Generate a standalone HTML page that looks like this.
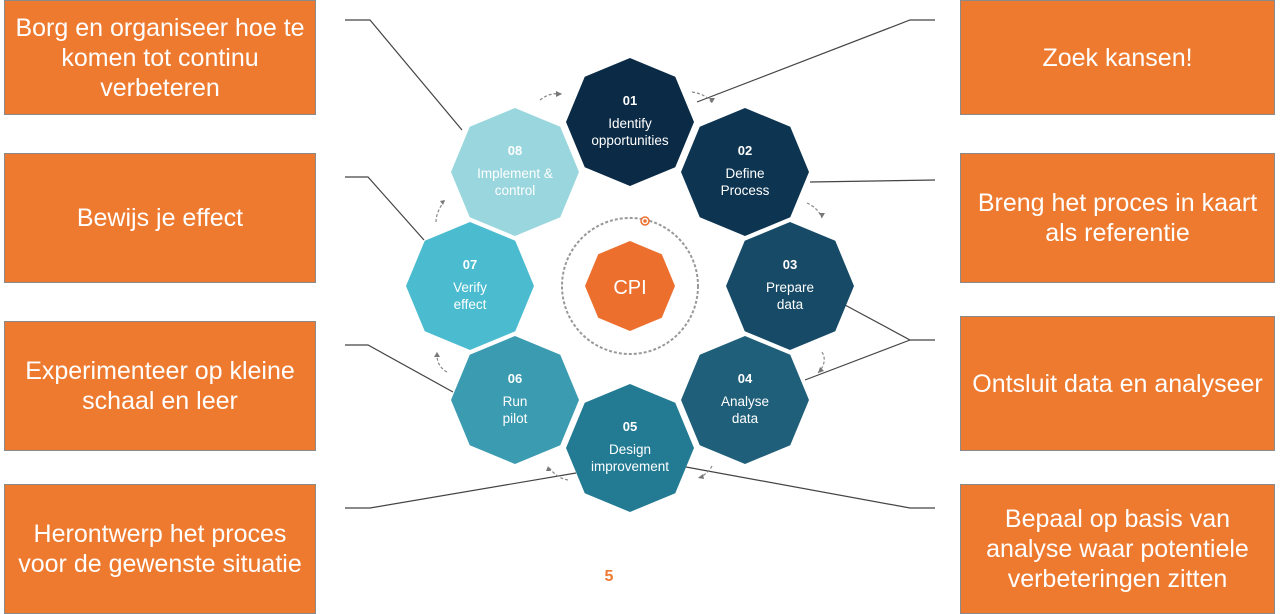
<!DOCTYPE html>
<html><head><style>
body{margin:0;width:1280px;height:614px;background:#fff;overflow:hidden;position:relative;font-family:"Liberation Sans",sans-serif}
.b{position:absolute;background:#ee7a30;border:1px solid #8a8a8a;box-sizing:border-box;color:#fff;font-size:25px;line-height:30px;display:flex;align-items:center;justify-content:center;text-align:center;white-space:nowrap}
svg{position:absolute;left:0;top:0}
</style></head><body>
<div class="b" style="left:4px;top:0;width:312px;height:115px">Borg en organiseer hoe te<br>komen tot continu<br>verbeteren</div>
<div class="b" style="left:4px;top:153px;width:312px;height:130px">Bewijs je effect</div>
<div class="b" style="left:4px;top:321px;width:312px;height:130px">Experimenteer op kleine<br>schaal en leer</div>
<div class="b" style="left:4px;top:484px;width:312px;height:130px">Herontwerp het proces<br>voor de gewenste situatie</div>
<div class="b" style="left:960px;top:0;width:315px;height:115px">Zoek kansen!</div>
<div class="b" style="left:960px;top:153px;width:315px;height:130px">Breng het proces in kaart<br>als referentie</div>
<div class="b" style="left:960px;top:316px;width:315px;height:135px">Ontsluit data en analyseer</div>
<div class="b" style="left:960px;top:484px;width:315px;height:130px">Bepaal op basis van<br>analyse waar potentiele<br>verbeteringen zitten</div>
<svg width="1280" height="614" font-family="Liberation Sans,sans-serif">
<defs>
<polygon id="o" points="0,-64 45.25,-45.25 64,0 45.25,45.25 0,64 -45.25,45.25 -64,0 -45.25,-45.25"/>
<polygon id="c" points="0,-45 31.8,-31.8 45,0 31.8,31.8 0,45 -31.8,31.8 -45,0 -31.8,-31.8"/>
</defs>
<g stroke="#444" stroke-width="1.2" fill="none">
<polyline points="345,20 370,20 462,130"/>
<polyline points="345,177 368,177 424,240"/>
<polyline points="345,345 368,345 453,392"/>
<polyline points="345,508 370,508 576,473"/>
<polyline points="935,20 910,20 697,102"/>
<polyline points="935,180 810,182"/>
<polyline points="935,340 910,340 845,305"/>
<polyline points="910,340 805,380"/>
<polyline points="935,508 910,508 686,467"/>
</g>
<circle cx="630" cy="286" r="68" fill="none" stroke="#999" stroke-width="2" stroke-dasharray="3,2"/>
<circle cx="645" cy="221" r="4" fill="#fff" stroke="#ec6f2d" stroke-width="1.5"/><circle cx="645" cy="221" r="1.8" fill="#ec6f2d"/>
<g fill="#fff" text-anchor="middle">
<use href="#o" x="630" y="122" fill="#0b2a45"/>
<use href="#o" x="745" y="172" fill="#0d3552"/>
<use href="#o" x="790" y="286" fill="#164a66"/>
<use href="#o" x="745" y="400" fill="#1f5f7a"/>
<use href="#o" x="515" y="400" fill="#3b9bb0"/>
<use href="#o" x="470" y="286" fill="#4bbccf"/>
<use href="#o" x="515" y="172" fill="#9ad6de"/>
<use href="#o" x="630" y="448" fill="#237b93"/>
<use href="#c" x="630" y="286" fill="#ec6f2d"/>
<g font-size="13" font-weight="bold">
<text x="630" y="105">01</text><text x="745" y="155">02</text><text x="790" y="269">03</text><text x="745" y="383">04</text>
<text x="515" y="383">06</text><text x="470" y="269">07</text><text x="515" y="155">08</text><text x="630" y="431">05</text>
</g>
<g font-size="13.5">
<text x="630" y="128">Identify</text><text x="630" y="145">opportunities</text>
<text x="745" y="178">Define</text><text x="745" y="195">Process</text>
<text x="790" y="292">Prepare</text><text x="790" y="309">data</text>
<text x="745" y="406">Analyse</text><text x="745" y="423">data</text>
<text x="515" y="406">Run</text><text x="515" y="423">pilot</text>
<text x="470" y="292">Verify</text><text x="470" y="309">effect</text>
<text x="515" y="178">Implement &amp;</text><text x="515" y="195">control</text>
<text x="630" y="454">Design</text><text x="630" y="471">improvement</text>
</g>
<text x="630" y="294" font-size="20">CPI</text>
</g>
<g stroke="#888" stroke-width="1.2" fill="none" stroke-dasharray="3,2">
<path d="M540,100 Q550,92 562,94"/><path d="M692,92 Q706,94 712,103"/><path d="M807,203 Q818,208 822,218"/><path d="M822,352 Q828,362 818,373"/><path d="M712,466 Q708,474 698,478"/><path d="M568,480 Q556,478 548,466"/><path d="M447,372 Q436,366 437,352"/><path d="M436,222 Q436,212 445,200"/>
</g>
<g fill="#777">
<path d="M562,94 l-6,-3 l0,6z"/><path d="M712,103 l-3,-5 l6,0z"/><path d="M822,218 l-3,-5 l6,0z"/><path d="M818,373 l2,-6 l4,4z"/><path d="M698,478 l5,-4 l1,5z"/><path d="M548,466 l-2,5 l5,0z"/><path d="M437,352 l-3,5 l6,0z"/><path d="M445,200 l-5,1 l3,4z"/>
</g>
<text x="609" y="581" fill="#ee7a30" font-size="16" font-weight="bold" text-anchor="middle">5</text>
</svg>
</body></html>
